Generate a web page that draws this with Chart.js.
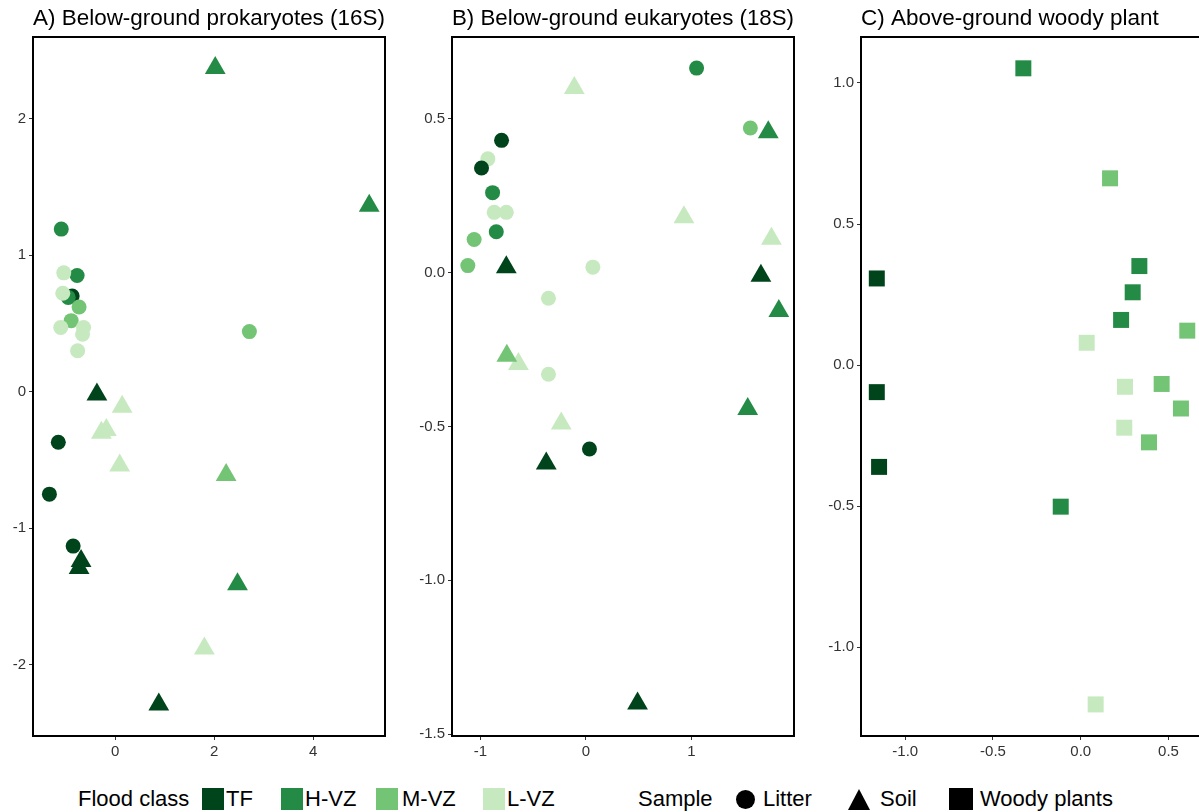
<!DOCTYPE html>
<html>
<head>
<meta charset="utf-8">
<script src="https://cdn.jsdelivr.net/npm/chart.js@4"></script>
<style>
  html, body { margin: 0; padding: 0; background: #fff; }
  body { width: 1199px; height: 812px; overflow: hidden; position: relative; font-family: 'Liberation Sans', Arial, sans-serif; }
  .panel { position: absolute; top: 0; height: 770px; }
  .lg { position: absolute; font-size: 22px; color: #000; line-height: 24px; top: 787px; white-space: nowrap; }
  .sw { position: absolute; top: 788px; width: 22px; height: 22px; }
</style>
</head>
<body>
<div class="panel" style="left:0;width:387px"><canvas id="chartA"></canvas></div>
<div class="panel" style="left:410px;width:386px"><canvas id="chartB"></canvas></div>
<div class="panel" style="left:815px;width:392px"><canvas id="chartC"></canvas></div>

<div class="lg" style="left:78px">Flood class</div>
<div class="sw" style="left:202px;background:#00441b"></div><div class="lg" style="left:226px">TF</div>
<div class="sw" style="left:281px;background:#238b45"></div><div class="lg" style="left:305px">H-VZ</div>
<div class="sw" style="left:376px;background:#74c476"></div><div class="lg" style="left:402px">M-VZ</div>
<div class="sw" style="left:483px;background:#c7e9c0"></div><div class="lg" style="left:507px">L-VZ</div>
<div class="lg" style="left:638px">Sample</div>
<div class="sw" style="left:736px;top:790px;width:19px;height:19px;border-radius:50%;background:#000"></div><div class="lg" style="left:763px">Litter</div>
<div style="position:absolute;left:848px;top:789px;width:0;height:0;border-left:11.5px solid transparent;border-right:11.5px solid transparent;border-bottom:21px solid #000"></div><div class="lg" style="left:880px">Soil</div>
<div class="sw" style="left:949px;width:24px;background:#000"></div><div class="lg" style="left:980px">Woody plants</div>

<script>
// 洪水等级与颜色
const floodClasses = ['TF', 'H-VZ', 'M-VZ', 'L-VZ'];
const floodColors = ['#00441b', '#238b45', '#74c476', '#c7e9c0'];

// A) 16S — litter (circles) and soil (triangles), [x, y]
const aLitterTF = [[-0.87, 0.70], [-1.15, -0.37], [-1.33, -0.75], [-0.85, -1.13]];
const aLitterHVZ = [[-1.09, 1.19], [-0.77, 0.85], [-0.95, 0.69]];
const aLitterMVZ = [[-0.73, 0.62], [-0.89, 0.52], [2.71, 0.44]];
const aLitterLVZ = [[-1.04, 0.87], [-1.06, 0.72], [-1.10, 0.47], [-0.64, 0.47], [-0.66, 0.42], [-0.76, 0.30]];
const aSoilTF = [[-0.37, -0.02], [-0.69, -1.24], [-0.73, -1.29], [0.88, -2.29]];
const aSoilHVZ = [[2.02, 2.37], [5.13, 1.36], [2.47, -1.41]];
const aSoilMVZ = [[2.24, -0.61]];
const aSoilLVZ = [[0.14, -0.11], [-0.28, -0.30], [-0.18, -0.28], [0.09, -0.54], [1.80, -1.88]];

// B) 18S
const bLitterTF = [[-0.80, 0.43], [-0.99, 0.34], [0.034, -0.573]];
const bLitterHVZ = [[1.05, 0.665], [-0.885, 0.26], [-0.85, 0.133]];
const bLitterMVZ = [[1.56, 0.47], [-1.06, 0.108], [-1.12, 0.023]];
const bLitterLVZ = [[-0.93, 0.37], [-0.87, 0.196], [-0.755, 0.196], [0.066, 0.018], [-0.355, -0.083], [-0.355, -0.33]];
const bSoilTF = [[-0.755, 0.018], [1.66, -0.01], [-0.376, -0.62], [0.49, -1.40]];
const bSoilHVZ = [[1.73, 0.456], [1.83, -0.125], [1.535, -0.443]];
const bSoilMVZ = [[-0.75, -0.27]];
const bSoilLVZ = [[-0.11, 0.60], [0.93, 0.18], [1.76, 0.11], [-0.64, -0.297], [-0.234, -0.49]];

// C) woody plants (squares)
const cWoodyTF = [[-1.162, 0.307], [-1.162, -0.096], [-1.149, -0.361]];
const cWoodyHVZ = [[-0.327, 1.052], [0.334, 0.351], [0.296, 0.258], [0.23, 0.16], [-0.114, -0.502]];
const cWoodyMVZ = [[0.167, 0.662], [0.607, 0.122], [0.461, -0.067], [0.571, -0.154], [0.389, -0.274]];
const cWoodyLVZ = [[0.034, 0.079], [0.252, -0.077], [0.248, -0.222], [0.085, -1.203]];

// 刻度
const aXTicks = [0, 2, 4];
const aYTicks = [-2, -1, 0, 1, 2];
const bXTicks = [-1, 0, 1];
const bYTicks = [-1.5, -1.0, -0.5, 0.0, 0.5];
const cXTicks = [-1.0, -0.5, 0.0, 0.5];
const cYTicks = [-1.0, -0.5, 0.0, 0.5, 1.0];

const shapes = {
    litter: { pointStyle: 'circle', radius: 7.5 },
    soil: { pointStyle: 'triangle', radius: 12 },
    woody: { pointStyle: 'rect', radius: 11.3 }
};

function ds(points, cls, kind) {
    const c = floodColors[floodClasses.indexOf(cls)];
    return {
        label: cls + ' ' + kind,
        data: points.map(p => ({ x: p[0], y: p[1] })),
        pointStyle: shapes[kind].pointStyle,
        pointRadius: shapes[kind].radius,
        backgroundColor: c,
        borderColor: c,
        borderWidth: 0
    };
}

function axis(min, max, ticks, decimals, size, isY) {
    return {
        type: 'linear',
        min: min,
        max: max,
        afterBuildTicks: s => { s.ticks = ticks.map(v => ({ value: v })); },
        afterFit: s => {
            if (isY) { s.width = size; s.paddingTop = 0; s.paddingBottom = 0; }
            else { s.height = size; s.paddingLeft = 0; s.paddingRight = 0; }
        },
        grid: { drawOnChartArea: false, drawTicks: true, tickLength: 4, color: '#333', lineWidth: 1 },
        border: { display: false },
        ticks: {
            padding: 3,
            color: '#333',
            autoSkip: false,
            maxRotation: 0,
            font: { family: 'Liberation Sans', size: 15 },
            callback: v => v.toFixed(decimals)
        }
    };
}

// 画外框
const framePlugin = {
    id: 'frame',
    afterDraw(chart) {
        const a = chart.chartArea, ctx = chart.ctx;
        ctx.save();
        ctx.strokeStyle = '#000';
        ctx.lineWidth = 2;
        ctx.strokeRect(a.left, a.top, a.right - a.left, a.bottom - a.top);
        ctx.restore();
    }
};

function makeChart(id, title, datasets, xs, ys) {
    return new Chart(document.getElementById(id).getContext('2d'), {
        type: 'scatter',
        data: { datasets: datasets },
        options: {
            responsive: true,
            maintainAspectRatio: false,
            animation: false,
            events: [],
            layout: { autoPadding: false, padding: { right: 2, left: 0, top: 0, bottom: 0 } },
            scales: { x: xs, y: ys },
            plugins: {
                legend: { display: false },
                tooltip: { enabled: false },
                title: {
                    display: true,
                    text: title,
                    align: 'start',
                    fullSize: false,
                    color: '#000',
                    font: { family: 'Liberation Sans', size: 22.5, weight: 'normal' },
                    padding: { top: 5, bottom: 5 }
                }
            }
        },
        plugins: [framePlugin]
    });
}

makeChart('chartA', 'A) Below-ground prokaryotes (16S)', [
    ds(aLitterLVZ, 'L-VZ', 'litter'), ds(aLitterMVZ, 'M-VZ', 'litter'), ds(aLitterHVZ, 'H-VZ', 'litter'), ds(aLitterTF, 'TF', 'litter'),
    ds(aSoilLVZ, 'L-VZ', 'soil'), ds(aSoilMVZ, 'M-VZ', 'soil'), ds(aSoilHVZ, 'H-VZ', 'soil'), ds(aSoilTF, 'TF', 'soil')
], axis(-1.661, 5.449, aXTicks, 0, 34, false), axis(-2.52, 2.596, aYTicks, 0, 33, true));

makeChart('chartB', 'B) Below-ground eukaryotes (18S)', [
    ds(bLitterTF, 'TF', 'litter'), ds(bLitterHVZ, 'H-VZ', 'litter'), ds(bLitterMVZ, 'M-VZ', 'litter'), ds(bLitterLVZ, 'L-VZ', 'litter'),
    ds(bSoilTF, 'TF', 'soil'), ds(bSoilHVZ, 'H-VZ', 'soil'), ds(bSoilMVZ, 'M-VZ', 'soil'), ds(bSoilLVZ, 'L-VZ', 'soil')
], axis(-1.27, 1.974, bXTicks, 0, 34, false), axis(-1.506, 0.766, bYTicks, 1, 42, true));

makeChart('chartC', 'C) Above-ground woody plant', [
    ds(cWoodyTF, 'TF', 'woody'), ds(cWoodyHVZ, 'H-VZ', 'woody'), ds(cWoodyMVZ, 'M-VZ', 'woody'), ds(cWoodyLVZ, 'L-VZ', 'woody')
], axis(-1.252, 0.708, cXTicks, 1, 34, false), axis(-1.315, 1.163, cYTicks, 1, 46, true));
</script>
</body>
</html>
